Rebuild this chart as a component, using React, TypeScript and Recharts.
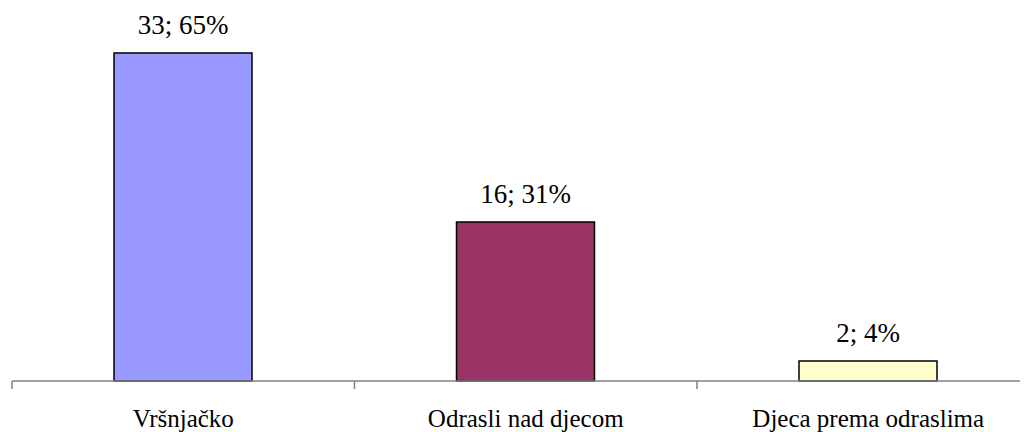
import React from "react";
import { BarChart, Bar, XAxis, YAxis, Cell, LabelList } from "recharts";

const categories = ["Vršnjačko", "Odrasli nad djecom", "Djeca prema odraslima"];
const counts = [33, 16, 2];
const percents = [65, 31, 4];
const colors = ["#9999FF", "#993366", "#FFFFCC"];

const data = categories.map((name, i) => ({
  name,
  value: counts[i],
  label: `${counts[i]}; ${percents[i]}%`,
}));

const FONT = "Liberation Serif, Times New Roman, serif";
const CHART_W = 1040;
const MARGIN_L = 4;
const MARGIN_R = 8.5;
const BAND = (CHART_W - MARGIN_L - MARGIN_R) / categories.length;

const CustomTick = (props: any) => {
  const { x, y, payload } = props;
  const bx = x - BAND / 2;
  return (
    <g>
      <line x1={bx} x2={bx} y1={y - 10} y2={y - 2} stroke="#808080" strokeWidth={1.5} />
      <text
        x={x}
        y={y}
        dy={36}
        textAnchor="middle"
        style={{ fontFamily: FONT, fontSize: 25, fill: "#000" }}
      >
        {payload.value}
      </text>
    </g>
  );
};

const CustomLabel = (props: any) => {
  const { x, y, width, value } = props;
  return (
    <text
      x={x + width / 2}
      y={y - 19}
      textAnchor="middle"
      style={{ fontFamily: FONT, fontSize: 27, fill: "#000" }}
    >
      {value}
    </text>
  );
};

export default function App() {
  return (
    <div style={{ width: 1020, height: 424, overflow: "hidden" }}>
      <BarChart
        width={CHART_W}
        height={424}
        data={data}
        margin={{ top: 45, right: MARGIN_R, left: MARGIN_L, bottom: 0 }}
        barSize={138}
      >
        <YAxis hide domain={[0, 33]} />
        <XAxis
          dataKey="name"
          height={51}
          tickSize={8}
          interval={0}
          tick={<CustomTick />}
          tickLine={false}
          axisLine={{ stroke: "#808080", strokeWidth: 1.5 }}
        />
        <Bar dataKey="value" stroke="#000" strokeWidth={1.5} isAnimationActive={false}>
          {data.map((d, i) => (
            <Cell key={d.name} fill={colors[i]} />
          ))}
          <LabelList dataKey="label" content={<CustomLabel />} />
        </Bar>
      </BarChart>
    </div>
  );
}
